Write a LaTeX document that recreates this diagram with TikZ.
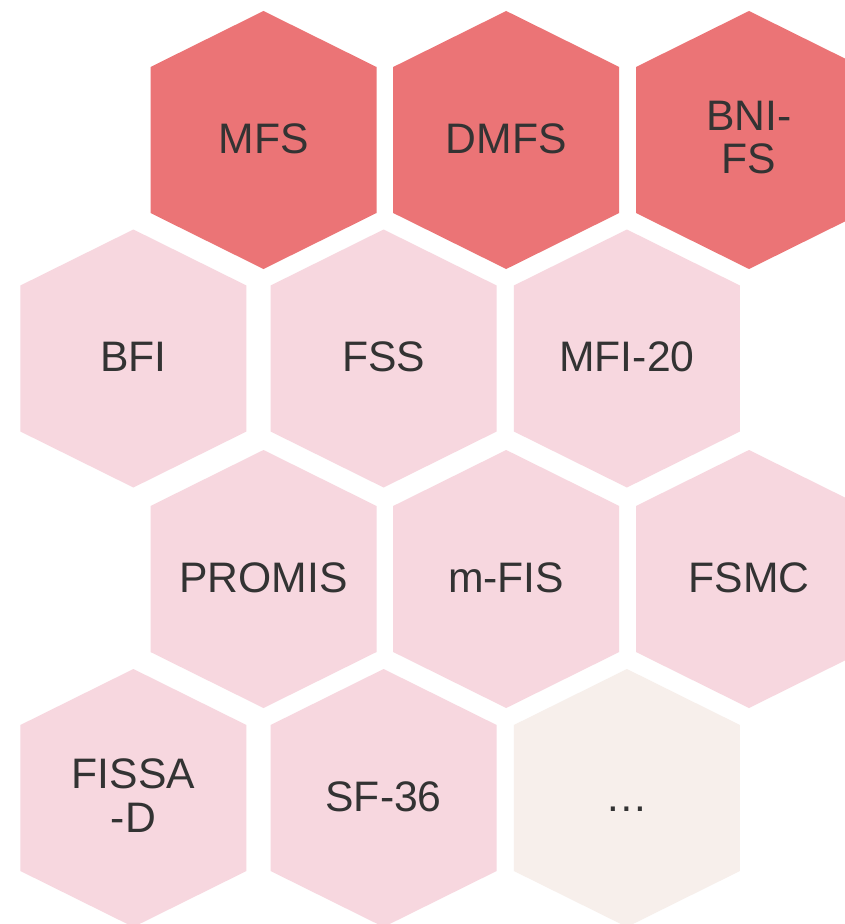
\documentclass[tikz,border=0pt]{standalone}
\usepackage{fontspec}
\setmainfont{Liberation Sans}
\definecolor{hexred}{HTML}{EB7476}
\definecolor{hexpink}{HTML}{F7D7DF}
\definecolor{hexbeige}{HTML}{F7EFEB}
\definecolor{inkgray}{HTML}{333333}

% One honeycomb cell: #1 node name, #2 centre, #3 fill, #4 label style, #5 label
\newcommand{\hexcell}[5]{%
  \begin{scope}[shift={#2}]
    \fill[#3] (0,-129) -- (113,-73) -- (113,73) -- (0,129)
              -- (-113,73) -- (-113,-73) -- cycle;
    \node[#4] (#1) at (0,-2.5) {#5};
  \end{scope}}

\begin{document}
\begin{tikzpicture}[x=0.75pt,y=-0.75pt,
  oneline/.style={text=inkgray,inner sep=0pt,
    font=\fontsize{32pt}{32.5pt}\selectfont,
    text height=23.3pt,text depth=0pt},
  twoline/.style={text=inkgray,inner sep=0pt,align=center,
    font=\fontsize{32pt}{32.5pt}\selectfont}]
\useasboundingbox (0,0) rectangle (845,924);
\fill[white] (0,0) rectangle (845,924);

% first row: the three dark cells
\hexcell{mfs}{(263.5,140)}{hexred}{oneline}{MFS}
\hexcell{dmfs}{(506.2,140)}{hexred}{oneline}{DMFS}
\hexcell{bnifs}{(749,140)}{hexred}{twoline}{BNI-\\FS}

% second row
\hexcell{bfi}{(133.4,358.5)}{hexpink}{oneline}{BFI}
\hexcell{fss}{(383.6,358.5)}{hexpink}{oneline}{FSS}
\hexcell{mfi}{(626.9,358.5)}{hexpink}{oneline}{MFI-20}

% third row
\hexcell{promis}{(263.5,579)}{hexpink}{oneline}{PROMIS}
\hexcell{mfis}{(506.2,579)}{hexpink}{oneline}{m-FIS}
\hexcell{fsmc}{(749,579)}{hexpink}{oneline}{FSMC}

% fourth row
\hexcell{fissa}{(133.4,798)}{hexpink}{twoline}{FISSA\\-D}
\hexcell{sf}{(383.6,798)}{hexpink}{oneline}{SF-36}
\hexcell{more}{(626.9,798)}{hexbeige}{oneline}{…}
\end{tikzpicture}
\end{document}
